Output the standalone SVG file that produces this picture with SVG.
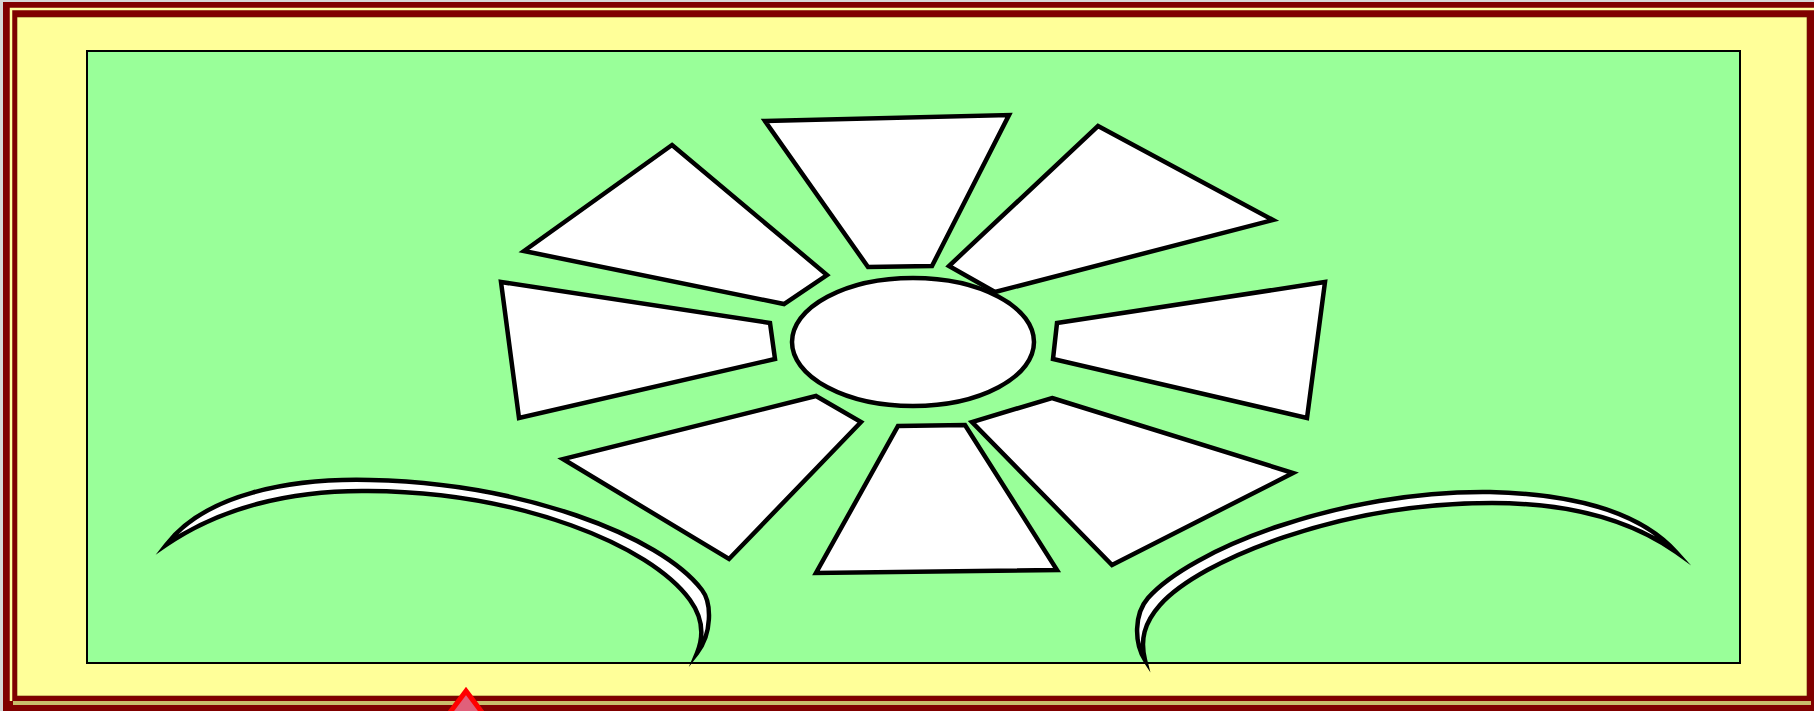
<svg xmlns="http://www.w3.org/2000/svg" width="1814" height="711" viewBox="0 0 1814 711">
<style>
.petal{fill:#ffffff;stroke:#000000;stroke-width:4.5;stroke-linejoin:miter}
.swoosh{fill:#ffffff;stroke:#000000;stroke-width:4.5;stroke-linejoin:miter;stroke-miterlimit:20}
</style>
<g id="frame">
<rect x="0" y="0" width="1814" height="711" fill="#d6d6d6"/>
<rect x="3" y="2" width="1830" height="730" fill="#800000"/>
<polyline points="11,701 11,9 1814,9" fill="none" stroke="#ffffa0" stroke-width="2.5" stroke-linejoin="miter"/>
<polyline points="13,703 1811,703" fill="none" stroke="#c9bd6b" stroke-width="4"/>
<rect x="17" y="17" width="1790" height="679" fill="#ffff99" stroke="#6a1a00" stroke-width="0.6"/>
</g>
<g id="panel">
<rect x="87" y="51" width="1653" height="612" fill="#99ff99" stroke="#000000" stroke-width="2"/>
</g>
<g id="flower">
<g id="center"><ellipse cx="913" cy="342" rx="121" ry="64" class="petal"/></g>
<g id="petal-top"><polygon class="petal" points="765,121 1009,115 932,266 868,267"/></g>
<g id="petal-upper-right"><polygon class="petal" points="1098,126 1273,220 995,292 949,266"/></g>
<g id="petal-right"><polygon class="petal" points="1325,282 1307,418 1053,359 1057,323"/></g>
<g id="petal-lower-right"><polygon class="petal" points="1052,398 1293,473 1112,565 972,422"/></g>
<g id="petal-bottom"><polygon class="petal" points="898,426 965,425 1057,570 816,573"/></g>
<g id="petal-lower-left"><polygon class="petal" points="816,396 861,422 729,559 563,459"/></g>
<g id="petal-left"><polygon class="petal" points="501,282 770,323 775,359 519,418"/></g>
<g id="petal-upper-left"><polygon class="petal" points="672,145 827,275 784,304 524,251"/></g>
</g>
<g id="swoosh-left">
<path class="swoosh" d="M166,545 C205,494 290,478 370,480 C520,483 660,535 702,590 C712,603 712,634 697,653 C704,636 703,618 690,600 C650,545 520,492 368,491 C290,490 220,508 166,545 Z"/>
</g>
<g id="swoosh-right">
<path class="swoosh" d="M1676,552 C1640,512 1575,494 1490,492 C1340,490 1190,550 1148,598 C1134,614 1134,643 1145,660 C1140,640 1144,623 1160,605 C1200,560 1340,503 1492,503 C1575,503 1635,523 1676,552 Z"/>
</g>
<g id="marker-triangle">
<polygon points="466,691 436,731 496,731" fill="#e0607a" stroke="#ff0000" stroke-width="5" stroke-linejoin="miter"/>
</g>
</svg>
